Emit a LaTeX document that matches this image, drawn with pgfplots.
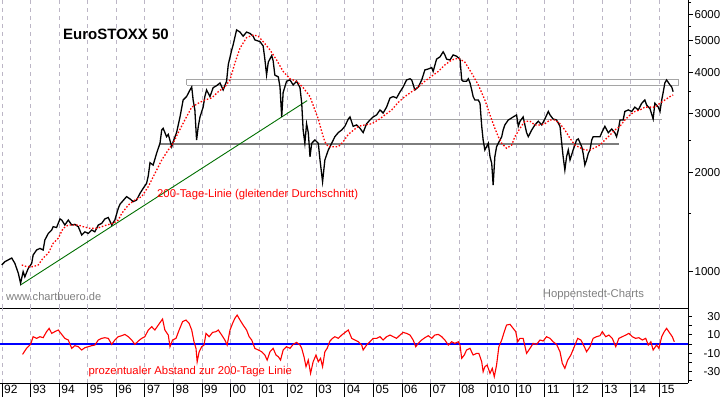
\documentclass[border=0pt]{standalone}
\usepackage{pgfplots}
\pgfplotsset{compat=1.18}
\usepackage{fontspec}
\setmainfont{Liberation Sans}
\definecolor{gridc}{RGB}{188,182,198}
\definecolor{darkgreen}{RGB}{0,110,0}
\definecolor{txtgray}{RGB}{128,128,128}
\definecolor{barg}{RGB}{125,125,125}
\definecolor{boxg}{RGB}{165,165,165}
\definecolor{pred}{RGB}{255,0,0}
\definecolor{pblue}{RGB}{0,0,255}
\begin{document}
\begin{tikzpicture}
\pgfplotsset{every axis/.append style={scale only axis, width=688bp,
  xmin=1991.93, xmax=2016.01, xtick={1992,...,2015}, xmajorgrids,
  major grid style={gridc, dash pattern=on 4bp off 4bp, line width=0.7bp},
  axis line style={black, line width=0.8bp},
  tick style={black, line width=0.8bp},
  /pgf/number format/assume math mode=true,
  ticklabel style={font=\fontsize{11.5bp}{13bp}\selectfont}}}
% ---------------- upper panel ----------------
\begin{axis}[at={(0,75bp)}, anchor=south west, height=308bp,
  ymode=log, ymin=777, ymax=6626,
  axis x line*=bottom, axis y line*=right,
  xticklabels={}, xtick style={draw=none},
  ytick={1000,2000,3000,4000,5000,6000},
  yticklabels={1000,2000,3000,4000,5000,6000},
  minor ytick={1500,2500,3500,4500,5500,6500},
  major tick length=5bp, minor tick length=3bp, tick align=outside,
  yticklabel style={anchor=west, inner sep=0pt, text width=26bp, align=right, xshift=1bp}]
% annotation lines
\addplot[barg, line width=2.2bp] coordinates {(1997.53,2427) (2013.60,2427)};
\addplot[boxg, line width=0.9bp] coordinates {(1998.47,3661) (1998.47,3823) (2015.69,3823) (2015.69,3661) (1998.47,3661)};
\addplot[boxg, line width=0.9bp] coordinates {(2001.83,2889) (2015.09,2889)};
\addplot[darkgreen, line width=0.9bp] coordinates {(1992.65,912) (2002.68,3289)};
% price
\addplot[black, line width=1.3bp] coordinates {
(1991.99,1048)(1992.10,1072)(1992.34,1100)(1992.45,1060)(1992.57,990)(1992.65,923)(1992.74,1000)(1992.80,965)(1992.92,1024)(1993.04,1060)(1993.09,1123)(1993.21,1163)(1993.33,1176)(1993.44,1163)(1993.50,1247)(1993.62,1305)(1993.74,1337)(1993.79,1368)(1993.91,1360)(1994.03,1444)(1994.09,1433)(1994.20,1384)(1994.32,1433)(1994.44,1384)(1994.55,1390)(1994.67,1368)(1994.79,1291)(1994.90,1320)(1995.02,1305)(1995.14,1337)(1995.25,1320)(1995.37,1384)(1995.49,1400)(1995.60,1444)(1995.72,1458)(1995.84,1384)(1995.95,1433)(1996.07,1555)(1996.13,1600)(1996.36,1686)(1996.48,1660)(1996.59,1628)(1996.71,1647)(1996.83,1725)(1996.94,1786)(1997.06,1849)(1997.12,1950)(1997.18,2135)(1997.29,2100)(1997.41,2278)(1997.53,2445)(1997.59,2681)(1997.64,2713)(1997.76,2559)(1997.82,2600)(1997.94,2387)(1997.99,2469)(1998.11,2633)(1998.23,2936)(1998.34,3304)(1998.46,3383)(1998.58,3543)(1998.64,3617)(1998.69,3304)(1998.75,3083)(1998.81,2501)(1998.87,2751)(1998.93,2936)(1999.04,3144)(1999.10,3383)(1999.16,3543)(1999.28,3383)(1999.39,3600)(1999.51,3650)(1999.63,3720)(1999.74,3543)(1999.86,3765)(1999.92,4230)(2000.04,4680)(2000.09,4850)(2000.21,5380)(2000.33,5300)(2000.44,5150)(2000.56,5300)(2000.68,5250)(2000.79,5150)(2000.85,5018)(2001.03,4960)(2001.14,4810)(2001.20,4390)(2001.26,3933)(2001.32,4300)(2001.44,4500)(2001.49,4340)(2001.55,3930)(2001.67,3880)(2001.73,3617)(2001.79,2936)(2001.84,3480)(2001.96,3765)(2002.08,3800)(2002.19,3668)(2002.31,3765)(2002.43,3600)(2002.49,3230)(2002.54,2681)(2002.60,2445)(2002.66,2800)(2002.72,2633)(2002.78,2226)(2002.84,2445)(2002.95,2501)(2003.07,2445)(2003.13,2176)(2003.22,1870)(2003.30,2176)(2003.42,2333)(2003.54,2445)(2003.65,2559)(2003.77,2633)(2003.89,2681)(2004.00,2751)(2004.12,2894)(2004.18,2936)(2004.29,2751)(2004.41,2777)(2004.53,2713)(2004.64,2633)(2004.76,2800)(2004.88,2875)(2004.99,2936)(2005.11,2977)(2005.23,3083)(2005.34,3017)(2005.46,3144)(2005.58,3350)(2005.69,3383)(2005.81,3350)(2005.93,3495)(2006.04,3617)(2006.16,3798)(2006.28,3830)(2006.34,3798)(2006.45,3543)(2006.57,3617)(2006.69,3798)(2006.80,4072)(2006.92,4100)(2007.04,4140)(2007.09,4030)(2007.21,4390)(2007.33,4460)(2007.44,4620)(2007.50,4521)(2007.56,4390)(2007.68,4365)(2007.79,4521)(2007.91,4480)(2008.03,4390)(2008.09,3800)(2008.14,3765)(2008.26,3765)(2008.32,3830)(2008.38,3720)(2008.44,3543)(2008.49,3383)(2008.55,3304)(2008.67,3304)(2008.73,3230)(2008.79,2751)(2008.84,2501)(2008.90,2333)(2008.96,2387)(2009.02,2445)(2009.08,2226)(2009.14,2125)(2009.19,1828)(2009.25,2226)(2009.31,2387)(2009.37,2445)(2009.43,2501)(2009.49,2559)(2009.54,2681)(2009.60,2777)(2009.72,2875)(2009.78,2894)(2009.89,2936)(2010.01,2977)(2010.07,2751)(2010.13,2850)(2010.24,2936)(2010.36,2633)(2010.42,2559)(2010.54,2681)(2010.65,2777)(2010.77,2850)(2010.89,2777)(2011.00,2894)(2011.12,3050)(2011.18,2977)(2011.29,2894)(2011.41,2875)(2011.53,2751)(2011.59,2445)(2011.64,2226)(2011.70,2029)(2011.76,2226)(2011.82,2333)(2011.88,2176)(2011.99,2333)(2012.11,2501)(2012.17,2520)(2012.29,2387)(2012.34,2278)(2012.40,2101)(2012.46,2176)(2012.52,2278)(2012.58,2333)(2012.64,2501)(2012.69,2559)(2012.81,2559)(2012.93,2559)(2012.99,2630)(2013.10,2751)(2013.22,2630)(2013.34,2700)(2013.45,2630)(2013.51,2559)(2013.57,2681)(2013.63,2875)(2013.74,2875)(2013.80,3050)(2013.92,3083)(2014.04,3050)(2014.15,3144)(2014.27,3083)(2014.39,3230)(2014.50,3304)(2014.56,3192)(2014.68,3110)(2014.79,2894)(2014.85,3230)(2014.97,3144)(2015.03,3050)(2015.09,3304)(2015.14,3480)(2015.20,3720)(2015.26,3798)(2015.38,3668)(2015.44,3617)(2015.49,3500)};
% 200-day moving average
\addplot[pred, line width=1.3bp, dash pattern=on 1.5bp off 1.8bp] coordinates {
(1992.69,1048)(1992.86,1036)(1993.09,1036)(1993.27,1048)(1993.44,1100)(1993.62,1137)(1993.79,1218)(1993.97,1263)(1994.14,1352)(1994.32,1384)(1994.49,1384)(1994.67,1384)(1994.84,1368)(1995.08,1352)(1995.31,1352)(1995.49,1368)(1995.66,1384)(1995.89,1400)(1996.07,1433)(1996.19,1500)(1996.42,1590)(1996.65,1647)(1996.89,1686)(1997.12,1808)(1997.35,1980)(1997.59,2176)(1997.82,2333)(1997.99,2445)(1998.17,2633)(1998.40,2875)(1998.64,3144)(1998.87,3230)(1999.10,3304)(1999.34,3350)(1999.57,3500)(1999.80,3617)(1999.98,3800)(2000.15,4270)(2000.33,4740)(2000.56,5100)(2000.79,5195)(2000.97,5150)(2001.14,4960)(2001.38,4680)(2001.61,4365)(2001.84,4030)(2002.08,3830)(2002.31,3765)(2002.54,3600)(2002.78,3383)(2002.95,3083)(2003.07,2894)(2003.19,2650)(2003.30,2469)(2003.42,2387)(2003.59,2387)(2003.77,2387)(2003.94,2469)(2004.12,2600)(2004.47,2751)(2004.70,2777)(2004.94,2800)(2005.17,2875)(2005.40,2977)(2005.64,3083)(2005.87,3250)(2006.10,3383)(2006.34,3500)(2006.57,3617)(2006.80,3765)(2007.04,3900)(2007.27,4030)(2007.50,4216)(2007.74,4365)(2007.97,4420)(2008.20,4300)(2008.44,3980)(2008.67,3668)(2008.90,3304)(2009.08,2977)(2009.25,2713)(2009.37,2559)(2009.49,2445)(2009.66,2360)(2009.84,2415)(2009.95,2559)(2010.13,2713)(2010.30,2850)(2010.48,2850)(2010.65,2777)(2010.83,2777)(2011.00,2800)(2011.18,2875)(2011.35,2875)(2011.53,2800)(2011.70,2681)(2011.88,2530)(2012.05,2415)(2012.23,2370)(2012.40,2333)(2012.58,2333)(2012.75,2370)(2012.93,2415)(2013.10,2501)(2013.28,2589)(2013.45,2681)(2013.63,2751)(2013.80,2875)(2013.98,2977)(2014.15,3050)(2014.33,3083)(2014.50,3144)(2014.68,3144)(2014.85,3144)(2015.03,3230)(2015.20,3304)(2015.38,3383)(2015.49,3421)};
\end{axis}
% ---------------- lower panel ----------------
\begin{axis}[at={(0,0)}, anchor=south west, height=75bp,
  ymin=-42.5, ymax=39.3,
  axis x line*=bottom, axis y line*=right,
  xticklabels={92,93,94,95,96,97,98,99,00,01,02,03,04,05,06,07,08,010,10,11,12,13,14,15},
  xtick style={/pgfplots/major tick length=14bp},
  xticklabel style={anchor=north west, inner sep=0pt, xshift=2bp, yshift=1.5bp, font=\fontsize{12bp}{13bp}\selectfont},
  ytick={-30,-10,10,30}, yticklabels={-30,-10,10,30},
  minor ytick={-40,-20,0,20},
  major tick length=3.5bp, minor tick length=3.5bp, tick align=outside,
  yticklabel style={anchor=west, inner sep=0pt, text width=26bp, align=right, xshift=2.5bp}]
\addplot[pblue, line width=1.2bp] coordinates {(1991.93,0) (2016.01,0)};
\addplot[pred, line width=1.1bp] coordinates {
(1992.72,-11.3)(1992.86,-4.7)(1993.00,-0.4)(1993.09,8)(1993.21,6.2)(1993.33,8)(1993.44,6.9)(1993.56,13.5)(1993.65,17.1)(1993.74,11.6)(1993.85,13.5)(1993.97,15.3)(1994.09,10.5)(1994.20,6.2)(1994.32,4.4)(1994.44,-4.7)(1994.55,-1.8)(1994.67,-2.9)(1994.79,-6.5)(1994.90,-4)(1995.02,-2.9)(1995.14,-1.8)(1995.25,-1.1)(1995.37,4.4)(1995.49,6.2)(1995.60,6.9)(1995.72,6.2)(1995.84,-0.4)(1995.95,4.4)(1996.07,8)(1996.19,9.1)(1996.30,10.5)(1996.42,8)(1996.54,4.4)(1996.65,-0.4)(1996.77,3.3)(1996.89,6.2)(1997.00,8)(1997.12,15.3)(1997.24,18.9)(1997.35,15.3)(1997.47,20.7)(1997.62,27.3)(1997.70,15.3)(1997.82,9.8)(1997.88,-2.9)(1997.97,4.4)(1998.09,6.2)(1998.20,15.3)(1998.32,24.4)(1998.44,26.2)(1998.55,22.5)(1998.64,15.3)(1998.72,2.5)(1998.79,-4.7)(1998.83,-19.3)(1998.90,-8.4)(1998.99,-2.9)(1999.07,-1.1)(1999.14,11.6)(1999.25,8)(1999.37,12.7)(1999.49,13.5)(1999.57,15.3)(1999.69,9.8)(1999.80,4.4)(1999.88,-1.1)(1999.98,15.3)(2000.07,22.5)(2000.15,28)(2000.23,31.6)(2000.33,26.2)(2000.44,20.7)(2000.56,15.3)(2000.65,8)(2000.74,4.4)(2000.85,-4.7)(2000.97,-6.5)(2001.09,-8.4)(2001.20,-12)(2001.28,-17.5)(2001.38,-8.4)(2001.49,-4.7)(2001.59,-12)(2001.67,-13.8)(2001.75,-17.5)(2001.84,-6.5)(2001.96,-2.9)(2002.08,-4.7)(2002.19,-0.4)(2002.31,1.8)(2002.43,-1.1)(2002.49,-4.7)(2002.57,-13.8)(2002.64,-24.7)(2002.72,-17.5)(2002.80,-32)(2002.89,-19.3)(2002.99,-12)(2003.07,-19.3)(2003.15,-15.6)(2003.22,-24.7)(2003.30,-8.4)(2003.38,-4.7)(2003.48,3.3)(2003.57,6.2)(2003.65,8)(2003.77,6.2)(2003.89,9.8)(2004.00,12.5)(2004.12,15.3)(2004.24,6.2)(2004.35,4.4)(2004.47,2.5)(2004.59,-1.1)(2004.64,-6.5)(2004.76,-1.1)(2004.88,2.5)(2004.99,6.2)(2005.11,6.2)(2005.23,8)(2005.34,4.4)(2005.46,8)(2005.58,9.8)(2005.69,8)(2005.81,6.2)(2005.93,9.8)(2006.04,12.7)(2006.16,11.6)(2006.28,9.8)(2006.39,4.4)(2006.48,-2.9)(2006.57,0.7)(2006.69,4.4)(2006.80,6.9)(2006.92,9.1)(2007.04,6.2)(2007.15,9.8)(2007.27,10.5)(2007.39,8)(2007.50,4.4)(2007.62,-1.1)(2007.74,2.5)(2007.85,0.7)(2007.97,2.5)(2008.03,-1.1)(2008.09,-15.6)(2008.18,-12)(2008.26,-6.5)(2008.38,-4.7)(2008.49,-12)(2008.61,-10.2)(2008.69,-10.2)(2008.79,-19.3)(2008.84,-30.2)(2008.90,-24.7)(2008.98,-22.9)(2009.08,-32)(2009.16,-26.5)(2009.23,-35.6)(2009.31,-22.9)(2009.39,-2.9)(2009.49,4.4)(2009.58,13.5)(2009.66,20.7)(2009.78,21.5)(2009.89,17.1)(2009.98,13.5)(2010.05,2.5)(2010.13,6.2)(2010.24,6.2)(2010.36,-10.2)(2010.48,-4.7)(2010.59,0.7)(2010.71,-0.4)(2010.83,4.4)(2010.94,3.3)(2011.06,8)(2011.18,6.2)(2011.29,2.5)(2011.41,-0.4)(2011.53,-8.4)(2011.61,-21)(2011.70,-26.5)(2011.80,-17.5)(2011.91,-12)(2012.03,-2.9)(2012.15,6.2)(2012.26,4.4)(2012.38,-2.9)(2012.46,-8.4)(2012.58,-2.9)(2012.69,6.2)(2012.81,8)(2012.93,9.1)(2013.01,13.5)(2013.13,8)(2013.24,9.8)(2013.36,6.2)(2013.48,-2.9)(2013.59,6.2)(2013.71,8)(2013.83,9.8)(2013.94,11.6)(2014.06,8)(2014.17,6.2)(2014.29,6.9)(2014.41,4.4)(2014.53,6.2)(2014.62,-1.1)(2014.71,2.5)(2014.79,-6.5)(2014.91,-1.1)(2014.99,-4.7)(2015.09,8)(2015.18,13.5)(2015.26,17.1)(2015.38,11.6)(2015.46,8)(2015.53,2.5)};
\end{axis}
% ---------------- texts ----------------
\node[anchor=west, inner sep=0pt, font=\fontsize{15bp}{17bp}\selectfont\bfseries] at (63bp,349bp) {EuroSTOXX 50};
\node[anchor=west, inner sep=0pt, text=pred, font=\fontsize{11.3bp}{13bp}\selectfont] at (157bp,188bp) {200-Tage-Linie (gleitender Durchschnitt)};
\node[anchor=west, inner sep=0pt, text=txtgray, font=\fontsize{11.1bp}{13bp}\selectfont] at (6bp,86.3bp) {www.chartbuero.de};
\node[anchor=west, inner sep=0pt, text=txtgray, font=\fontsize{11.3bp}{13bp}\selectfont] at (542.7bp,88bp) {Hoppenstedt-Charts};
\node[anchor=west, inner sep=0pt, text=pred, font=\fontsize{11.3bp}{13bp}\selectfont] at (88.3bp,11.3bp) {prozentualer Abstand zur 200-Tage Linie};
\pgfresetboundingbox
\path[use as bounding box] (0,-14bp) rectangle (723bp,383bp);
\end{tikzpicture}
\end{document}
